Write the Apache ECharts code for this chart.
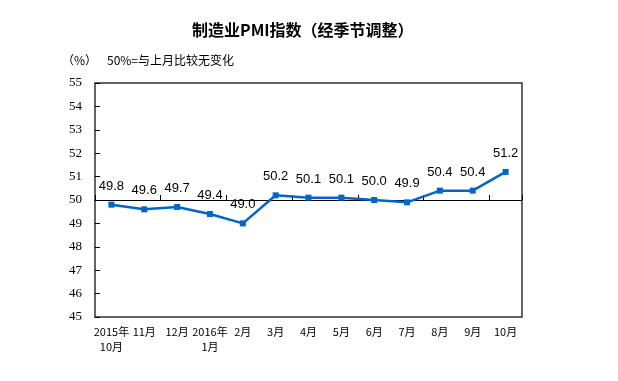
<!DOCTYPE html>
<html><head><meta charset="utf-8">
<script src="https://cdn.jsdelivr.net/npm/echarts@6/dist/echarts.min.js"></script>
<style>html,body{margin:0;padding:0;background:#fff}#c{width:618px;height:381px}</style>
</head><body><div id="c"></div>
<script>
const categories = ['2015年\n10月','11月','12月','2016年\n1月','2月','3月','4月','5月','6月','7月','8月','9月','10月'];
const pmiValues = [49.8,49.6,49.7,49.4,49.0,50.2,50.1,50.1,50.0,49.9,50.4,50.4,51.2];
const yTicks = [45,46,47,48,49,50,51,52,53,54,55];
const titleText = '制造业PMI指数（经季节调整）';
const unitText = '（%）';
const noteText = '50%=与上月比较无变化';

const chart = echarts.init(document.getElementById('c'), null, {renderer:'canvas'});
const L = 95, R = 618-522, T = 83, B = 381-317;
const H = 317-83;
chart.setOption({
  animation:false,
  backgroundColor:'#fff',
  title:{text:titleText, left:187, top:17, textStyle:{fontFamily:'Noto Sans CJK SC', fontSize:16, fontWeight:'bold', color:'#000'}},
  graphic:[
    {type:'text', left:62, top:54, style:{text:unitText, fontFamily:'Noto Sans CJK SC', fontSize:12, fill:'#000'}},
    {type:'text', left:107, top:54, style:{text:noteText, fontFamily:'Noto Sans CJK SC', fontSize:12, fill:'#000'}}
  ],
  grid:[
    {left:L, right:R, top:T, bottom:B, show:true, borderColor:'#333', borderWidth:1.5, backgroundColor:'transparent'},
    {left:L, right:R, top:T, height:H/2}
  ],
  xAxis:[
    {type:'category', gridIndex:0, data:categories, boundaryGap:true,
     axisLine:{show:false}, axisTick:{show:false},
     axisLabel:{interval:0, margin:7, fontFamily:'Noto Sans CJK SC', fontSize:11, color:'#000', lineHeight:15}},
    {type:'category', gridIndex:1, data:categories, boundaryGap:true, position:'bottom',
     axisLine:{show:true, lineStyle:{color:'#000', width:1}},
     axisTick:{show:true, inside:true, length:5, lineStyle:{color:'#000'}},
     axisLabel:{show:false}}
  ],
  yAxis:[
    {type:'value', gridIndex:0, min:yTicks[0], max:yTicks[yTicks.length-1], interval:1,
     splitLine:{show:false}, axisLine:{show:false},
     axisTick:{show:true, inside:true, length:5, lineStyle:{color:'#000'}},
     axisLabel:{margin:13, fontFamily:'Liberation Serif', fontSize:13, color:'#000'}},
    {type:'value', gridIndex:1, min:50, max:55, show:false}
  ],
  series:[{
    type:'line', xAxisIndex:0, yAxisIndex:0, data:pmiValues,
    symbol:'rect', symbolSize:6, z:5,
    lineStyle:{color:'#0066CC', width:2.5},
    itemStyle:{color:'#0066CC'},
    label:{show:true, position:'top', distance:9, formatter:p=>p.value.toFixed(1),
      fontFamily:'Liberation Sans', fontSize:13, color:'#000'}
  }]
});
</script></body></html>
